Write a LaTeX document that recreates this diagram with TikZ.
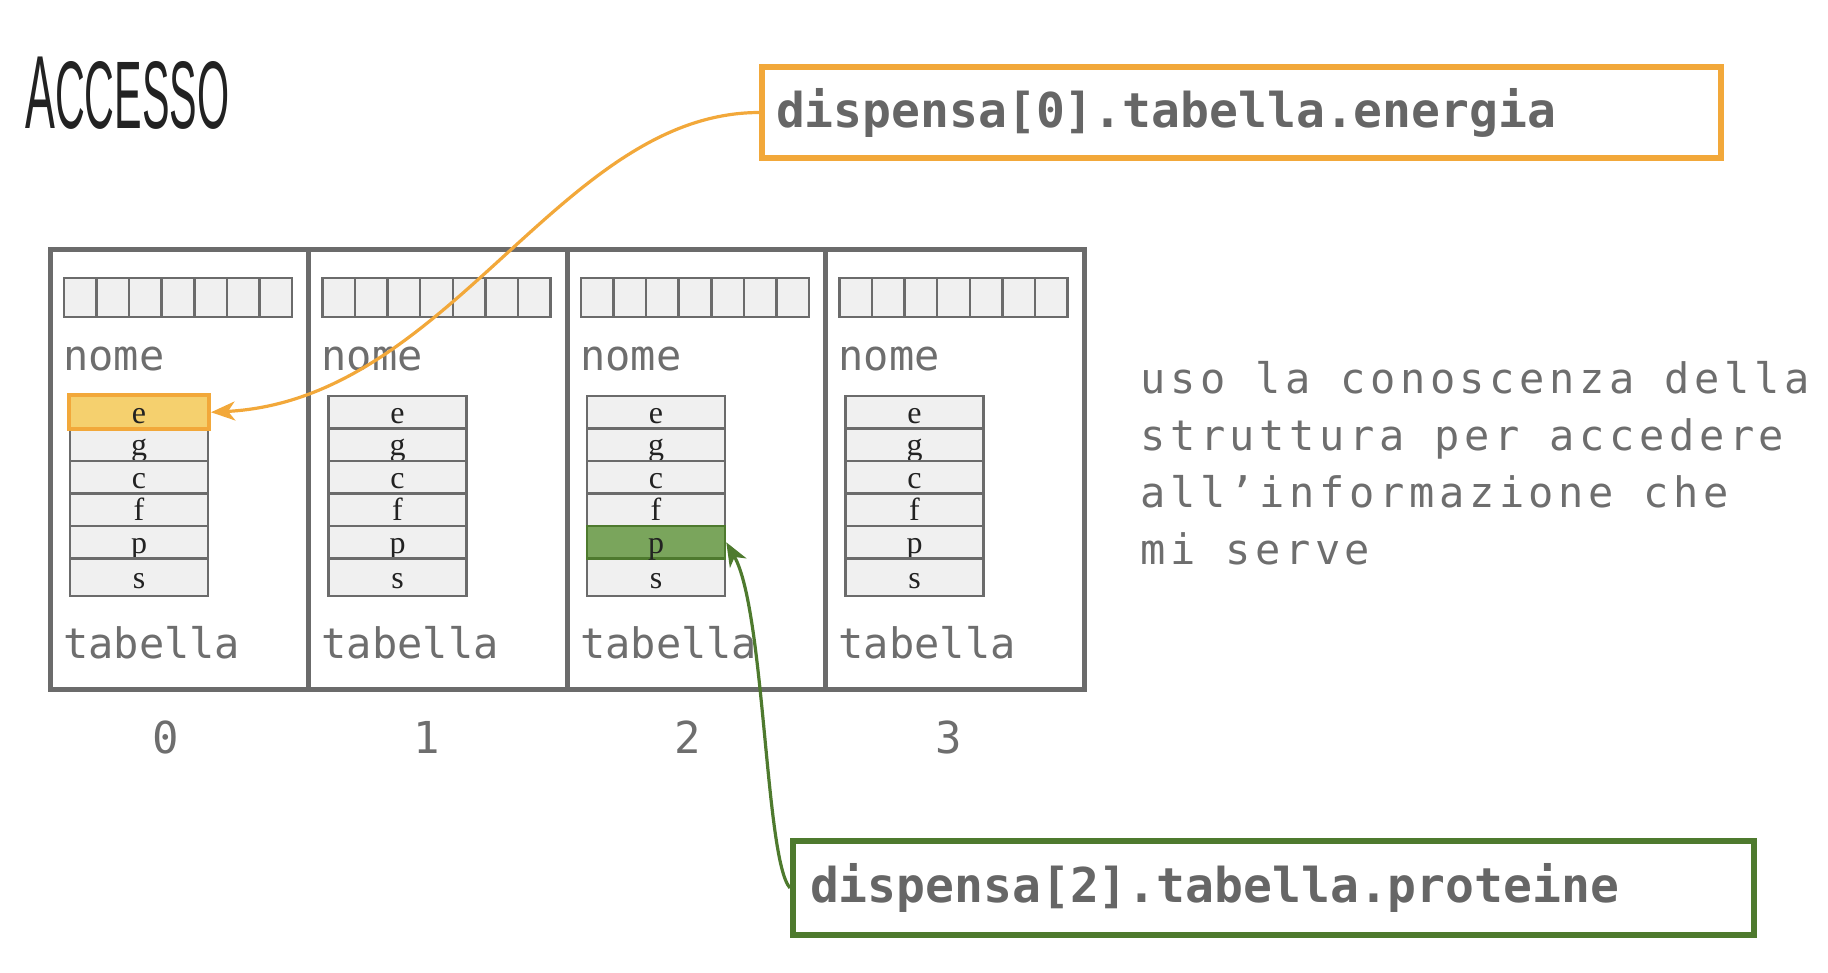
\documentclass[tikz,border=0pt]{standalone}
\usepackage{fontspec}
\usepackage{graphicx}
\setmainfont{Liberation Serif}
\newfontfamily\monof{DejaVu Sans Mono}
\newfontfamily\monols[LetterSpace=11]{DejaVu Sans Mono}
\newfontfamily\titlef{Liberation Sans}
\usetikzlibrary{arrows.meta}
\definecolor{gline}{HTML}{6B6B6B}
\definecolor{gfill}{HTML}{F0F0F0}
\definecolor{gtext}{HTML}{6E6E6E}
\definecolor{btext}{HTML}{666666}
\definecolor{oline}{HTML}{F2A83A}
\definecolor{ofill}{HTML}{F5D06E}
\definecolor{grline}{HTML}{4E7A2E}
\definecolor{grfill}{HTML}{7AA55C}
\definecolor{ttext}{HTML}{222222}
\tikzset{
  cellbox/.style={draw=gline, line width=5pt, minimum width=258.5pt, minimum height=440pt, inner sep=0pt},
  namebox/.style={draw=gline, fill=gfill, line width=2.5pt},
  namegrid/.style={draw=gline, line width=2.5pt},
  lbl/.style={inner sep=0pt, text=gtext, font=\monof\fontsize{42}{50}\selectfont},
  rowcell/.style={draw=gline, fill=gfill, line width=2.5pt, minimum width=138pt, inner sep=0pt,
     text height=22pt, text depth=0pt, text=ttext, font=\fontsize{32}{36}\selectfont},
  idx/.style={inner sep=0pt, anchor=base, text=gtext, font=\monof\fontsize{44}{50}\selectfont},
  rtext/.style={inner sep=0pt, anchor=base west, text=gtext, font=\monols\fontsize{42}{57}\selectfont},
  codebox/.style={line width=6pt, inner xsep=14pt, inner ysep=0pt, text width=931pt, align=left,
     minimum height=91pt, text=btext, font=\monof\bfseries\fontsize{48}{56}\selectfont},
  oarrow/.style={draw=oline, line width=3.2pt, -{Stealth[length=24pt,width=19pt,inset=7pt]}},
  garrow/.style={draw=grline, line width=3.2pt, -{Stealth[length=24pt,width=19pt,inset=7pt]}}
}
\begin{document}
\begin{tikzpicture}[x=1pt,y=-1pt]
\useasboundingbox (0,0) rectangle (1828,972);

% title
\node[anchor=base west, inner sep=0pt, text=ttext] (title) at (25,128)
  {\titlef\scalebox{0.43}[1]{\fontsize{104}{104}\selectfont A\fontsize{96}{96}\selectfont CCESSO}};

% array cells
\foreach \k in {0,1,2,3} {
  \pgfmathsetmacro\dx{258.5*\k}
  \node[cellbox] (cell\k) at (179.25+\dx,469) {};
  \draw[namebox] (64+\dx,278) rectangle (292+\dx,317);
  \foreach \i in {1,...,6} {
    \draw[namegrid] ({64+\dx+\i*228/7},278) -- ({64+\dx+\i*228/7},317);
  }
  \node[lbl, anchor=base west] (nome\k) at (63+\dx,370) {nome};
  \node[lbl, anchor=base west] (tab\k) at (63+\dx,658) {tabella};
  \foreach \l/\cy/\h in {e/412.25/32.5, g/444.75/32.5, c/477.25/32.5, f/509.75/32.5, p/542.25/32.5, s/577.25/37.5} {
    \node[rowcell, minimum height=\h pt] (\l\k) at (139+\dx,\cy) {\l};
  }
}

% highlighted fields
\node[rowcell, minimum height=34pt, fill=ofill, draw=oline, line width=4pt, minimum width=140pt] (ehl) at (e0.center) {e};
\node[rowcell, minimum height=32.5pt, fill=grfill, draw=grline] (phl) at (p2.center) {p};

% indices
\node[idx] (i0) at (166,753) {0};
\node[idx] (i1) at (427,753) {1};
\node[idx] (i2) at (688,753) {2};
\node[idx] (i3) at (949,753) {3};

% explanation
\node[rtext] (t1) at (1140,393) {uso la conoscenza della};
\node[rtext] (t2) at (1140,450) {struttura per accedere};
\node[rtext] (t3) at (1140,507) {all’informazione che};
\node[rtext] (t4) at (1140,564) {mi serve};

% code boxes
\node[codebox, draw=oline] (ebox) at (1241.5,112.5) {dispensa[0].tabella.energia};
\node[codebox, draw=grline, inner xsep=17pt, text width=927pt, minimum height=94pt] (pbox) at (1273.5,888) {dispensa[2].tabella.proteine};

% connectors
\draw[oarrow] (ebox.west) .. controls (560,113) and (450,400) .. (ehl.east);
\draw[garrow] (pbox.west) .. controls (765,860) and (765,610) .. (phl.east);
\end{tikzpicture}
\end{document}
